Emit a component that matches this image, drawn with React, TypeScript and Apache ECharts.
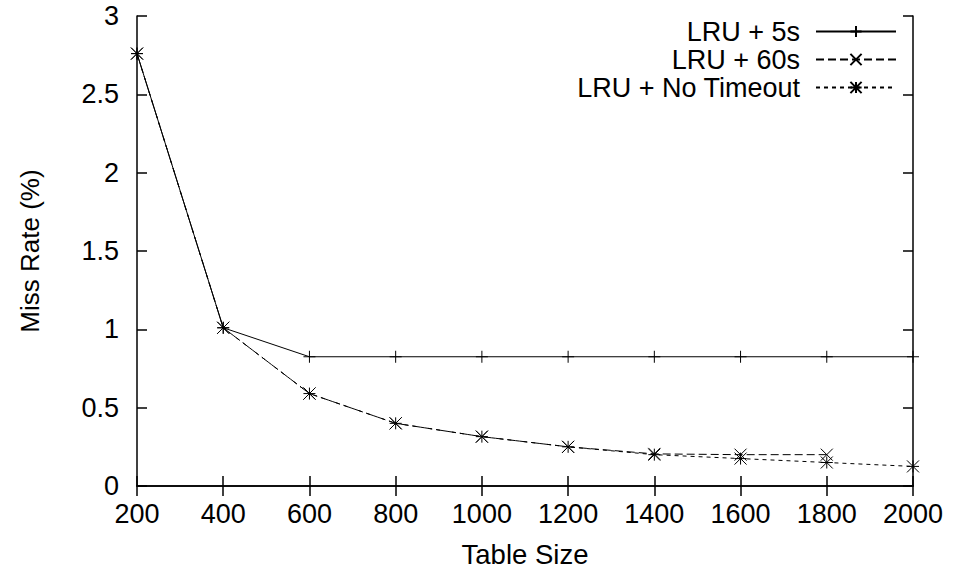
import React, { useEffect, useRef } from 'react';
import * as echarts from 'echarts';

const tableSizes = [200, 400, 600, 800, 1000, 1200, 1400, 1600, 1800, 2000];
const lru5s = [2.76, 1.01, 0.825, 0.825, 0.825, 0.825, 0.825, 0.825, 0.825, 0.825];
const lru60s = [2.76, 1.01, 0.59, 0.4, 0.315, 0.25, 0.205, 0.2, 0.2];
const lruNoTimeout = [2.76, 1.01, 0.59, 0.4, 0.315, 0.25, 0.2, 0.175, 0.15, 0.125];
const seriesNames = ['LRU + 5s', 'LRU + 60s', 'LRU + No Timeout'];

const FONT = '"Liberation Sans", Arial, Helvetica, sans-serif';
const PLUS = 'path://M0,6L12,6M6,0L6,12';
const CROSS = 'path://M0,0L12,12M12,0L0,12';
const STAR = 'path://M0,6L12,6M6,0L6,12M0,0L12,12M12,0L0,12';

function pairs(vals: number[]) {
  return vals.map((v, i) => [tableSizes[i], v]);
}

export default function App() {
  const ref = useRef<HTMLDivElement>(null);
  useEffect(() => {
    if (!ref.current) return;
    const chart = echarts.init(ref.current, undefined, { renderer: 'svg' });
    const axisLine = { show: true, lineStyle: { color: '#000', width: 1.5 } };
    const axisTick = { show: true, inside: true, length: 10, lineStyle: { color: '#000', width: 1.5 } };
    const xBase = { type: 'value', min: 200, max: 2000, interval: 200, splitLine: { show: false }, axisLine, axisTick };
    const yBase = { type: 'value', min: 0, max: 3, interval: 0.5, splitLine: { show: false }, axisLine, axisTick };
    const mk = (name: string, vals: number[], symbol: string, dash: any) => ({
      name,
      type: 'line',
      data: pairs(vals),
      symbol,
      symbolSize: 12,
      showSymbol: true,
      lineStyle: { color: '#000', width: 1, type: dash },
      itemStyle: { color: 'transparent', borderColor: '#000', borderWidth: 1 },
      emphasis: { disabled: true },
    });
    chart.setOption({
      animation: false,
      backgroundColor: '#fff',
      textStyle: { fontFamily: FONT },
      grid: { left: 137, right: 40, top: 16, bottom: 86 },
      legend: {
        orient: 'vertical',
        align: 'right',
        right: 51,
        top: 13,
        itemGap: 1,
        itemWidth: 80,
        itemHeight: 14,
        selectedMode: false,
        data: seriesNames,
        textStyle: { fontSize: 27, color: '#000', fontFamily: FONT, padding: [0, 11, 0, 0] },
      },
      xAxis: [
        {
          ...xBase,
          position: 'bottom',
          name: 'Table Size',
          nameLocation: 'middle',
          nameGap: 54,
          nameTextStyle: { fontSize: 27.5, color: '#000', fontFamily: FONT },
          axisLabel: { fontSize: 27, color: '#000', margin: 14, fontFamily: FONT, formatter: (v: number) => String(v) },
        },
        { ...xBase, position: 'top', axisLabel: { show: false } },
      ],
      yAxis: [
        {
          ...yBase,
          position: 'left',
          name: 'Miss Rate (%)',
          nameLocation: 'middle',
          nameGap: 94,
          nameTextStyle: { fontSize: 26, color: '#000', fontFamily: FONT },
          axisLabel: { fontSize: 27, color: '#000', margin: 18, fontFamily: FONT, formatter: (v: number) => String(v) },
        },
        { ...yBase, position: 'right', axisLabel: { show: false } },
      ],
      series: [
        mk(seriesNames[0], lru5s, PLUS, 'solid'),
        mk(seriesNames[1], lru60s, CROSS, [8, 4]),
        mk(seriesNames[2], lruNoTimeout, STAR, [4, 4]),
      ],
    });
    return () => chart.dispose();
  }, []);
  return <div ref={ref} style={{ width: 953, height: 573, position: 'absolute', left: 0, top: 0 }} />;
}
